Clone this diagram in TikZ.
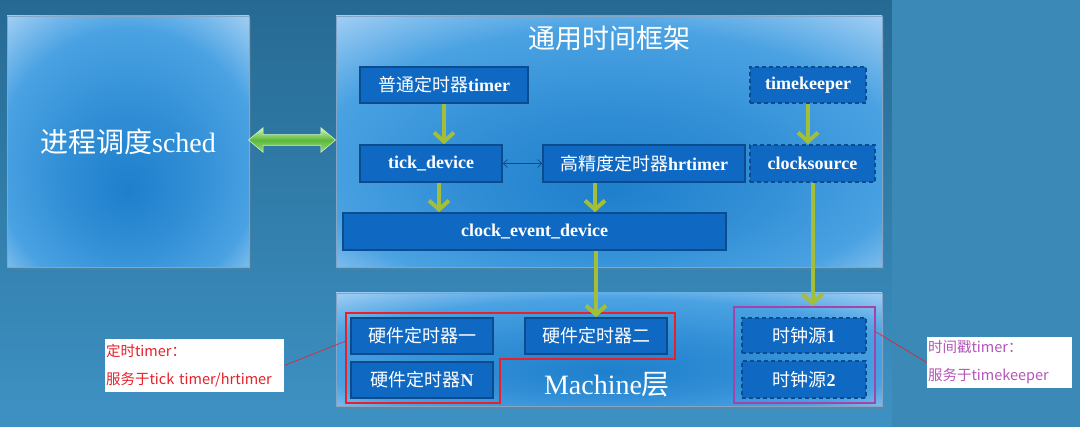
\documentclass[tikz,border=0pt]{standalone}
\usepackage{fontspec}
\setmainfont{Liberation Serif}
\setsansfont{Noto Sans CJK SC}
\newfontfamily\cjk{Noto Sans CJK SC}
\newcommand{\zh}[1]{{\cjk\mdseries #1}}
\usetikzlibrary{arrows.meta,shapes.arrows,shadows}
\definecolor{bgtop}{HTML}{266A94}
\definecolor{bgbot}{HTML}{3E92C3}
\definecolor{bgside}{HTML}{3A89B6}
\definecolor{glowin}{HTML}{1E7FCC}
\definecolor{glowmid}{HTML}{4AA2E2}
\definecolor{glowout}{HTML}{B0D6F7}
\definecolor{boxfill}{HTML}{0F69C2}
\definecolor{boxline}{HTML}{0A4C8E}
\definecolor{leaf}{HTML}{A3BF3A}
\definecolor{linktop}{HTML}{D2F5B4}
\definecolor{linkmid}{HTML}{5CB83C}
\definecolor{linkbot}{HTML}{9ED878}
\definecolor{hwred}{HTML}{E8202A}
\definecolor{tspurple}{HTML}{A544A8}
\definecolor{calltext}{HTML}{B455B8}
\pgfdeclareradialshading{glow}{\pgfpoint{0bp}{-10bp}}{color(0bp)=(glowin); color(14bp)=(glowin!55!glowmid); color(27bp)=(glowmid); color(39bp)=(glowout); color(50bp)=(glowout!60!white)}
\begin{document}
\begin{tikzpicture}[x=1pt, y=-1pt,
    every node/.style={text=white, inner sep=0pt},
    bigbox/.style={shading=glow, draw=boxline!50, line width=0.6pt,
      drop shadow={shadow xshift=2pt, shadow yshift=-3pt, opacity=0.3}},
    tbox/.style={fill=boxfill, draw=boxline, line width=1.6pt, minimum height=36pt,
      font=\fontsize{18}{20}\selectfont\bfseries},
    dbox/.style={tbox, dash pattern=on 4pt off 3pt},
    garrow/.style={leaf, line width=4pt, -{Straight Barb[length=9pt,width=20pt]}},
    callout/.style={fill=white, align=left, inner xsep=1pt,
      font=\sffamily\fontsize{14.5}{28}\selectfont}]
    \useasboundingbox (0,0) rectangle (1080,427);

    % Background
    \fill[top color=bgtop, bottom color=bgbot] (0,0) rectangle (892,427);
    \fill[bgside] (892,0) rectangle (1080,427);

    % Big boxes
    \node[bigbox, minimum width=242pt, minimum height=251pt] (sched) at (128,141.5) {};
    \node[font=\fontsize{28}{32}\selectfont] at (sched) {\zh{进程调度}sched};
    \node[bigbox, minimum width=546pt, minimum height=251pt] (frame) at (609,141.5) {};
    \node[font=\fontsize{27}{30}\selectfont] (title) at (609,38) {\zh{通用时间框架}};
    \node[bigbox, minimum width=546pt, minimum height=113pt] (machine) at (609,349.5) {};
    \node[font=\fontsize{28}{32}\selectfont] (mlabel) at (607,385) {Machine\zh{层}};

    % Link between sched and framework
    \node[double arrow, minimum height=87pt, minimum width=24pt, inner ysep=5pt,
      double arrow head extend=7pt, double arrow tip angle=80,
      top color=linktop, bottom color=linkbot, middle color=linkmid,
      draw=linktop, line width=0.6pt]
      (link) at (292,140) {};

    % Framework
    \node[tbox, minimum width=168pt] (timer) at (444,85) {\zh{普通定时器}timer};
    \node[dbox, minimum width=116pt] (tkeeper) at (808,85) {timekeeper};
    \node[tbox, minimum width=142pt, minimum height=37pt] (tick) at (431,163.5) {tick\_device};
    \node[tbox, minimum width=202pt, minimum height=37pt] (hrt) at (644,163.5) {\zh{高精度定时器}hrtimer};
    \node[dbox, minimum width=125pt, minimum height=37pt] (csrc) at (812.5,163.5) {clocksource};
    \node[tbox, minimum width=383pt, minimum height=37pt] (ced) at (534.5,231.5) {clock\_event\_device};

    % Machine
    \node[tbox, minimum width=142pt] (hw1) at (422,336) {\zh{硬件定时器一}};
    \node[tbox, minimum width=142pt] (hw2) at (596,336) {\zh{硬件定时器二}};
    \node[tbox, minimum width=142pt] (hwn) at (422,380) {\zh{硬件定时器}N};
    \node[dbox, minimum width=124pt, minimum height=35pt] (clk1) at (804,335.5) {\zh{时钟源}1};
    \node[dbox, minimum width=124pt, minimum height=37pt] (clk2) at (804,379.5) {\zh{时钟源}2};
    \draw[hwred, line width=2.5pt] (346,313) -- (675,313) -- (675,359) -- (500,359)
      -- (500,403) -- (346,403) -- cycle;
    \node[draw=tspurple, line width=2.5pt, minimum width=141pt, minimum height=96pt] (clkgrp) at (804.5,355) {};

    % Arrows
    \draw[garrow] (timer.south) -- (timer.south |- tick.north);
    \draw[garrow] ([xshift=8pt]tick.south) -- ([xshift=8pt]tick.south |- ced.north);
    \draw[garrow] ([xshift=-49pt]hrt.south) -- ([xshift=-49pt]hrt.south |- ced.north);
    \draw[garrow] (tkeeper.south) -- (tkeeper.south |- csrc.north);
    \draw[garrow] (hw2.north |- ced.south) -- (hw2.north);
    \draw[garrow] (csrc.south) -- (csrc.south |- clkgrp.north);
    \draw[boxline, line width=0.8pt, {Straight Barb[length=4pt,width=8pt]}-{Straight Barb[length=4pt,width=8pt]}] (tick) -- (hrt);

    % Callouts
    \node[callout, text=hwred, minimum width=179pt, minimum height=53pt, text width=177pt] (lcall) at (194.5,365.5)
      {定时timer：\\服务于tick timer/hrtimer};
    \node[callout, text=calltext, minimum width=145pt, minimum height=51pt, text width=143pt] (rcall) at (999.5,362.5)
      {时间戳timer：\\服务于timekeeper};
    \coordinate (lred) at (346,341);
    \coordinate (rpur) at (876,332);
    \draw[hwred, line width=0.6pt] (lcall.east) -- (lred);
    \draw[hwred, line width=0.6pt] (rpur) -- (rcall.west);
  \end{tikzpicture}
\end{document}
